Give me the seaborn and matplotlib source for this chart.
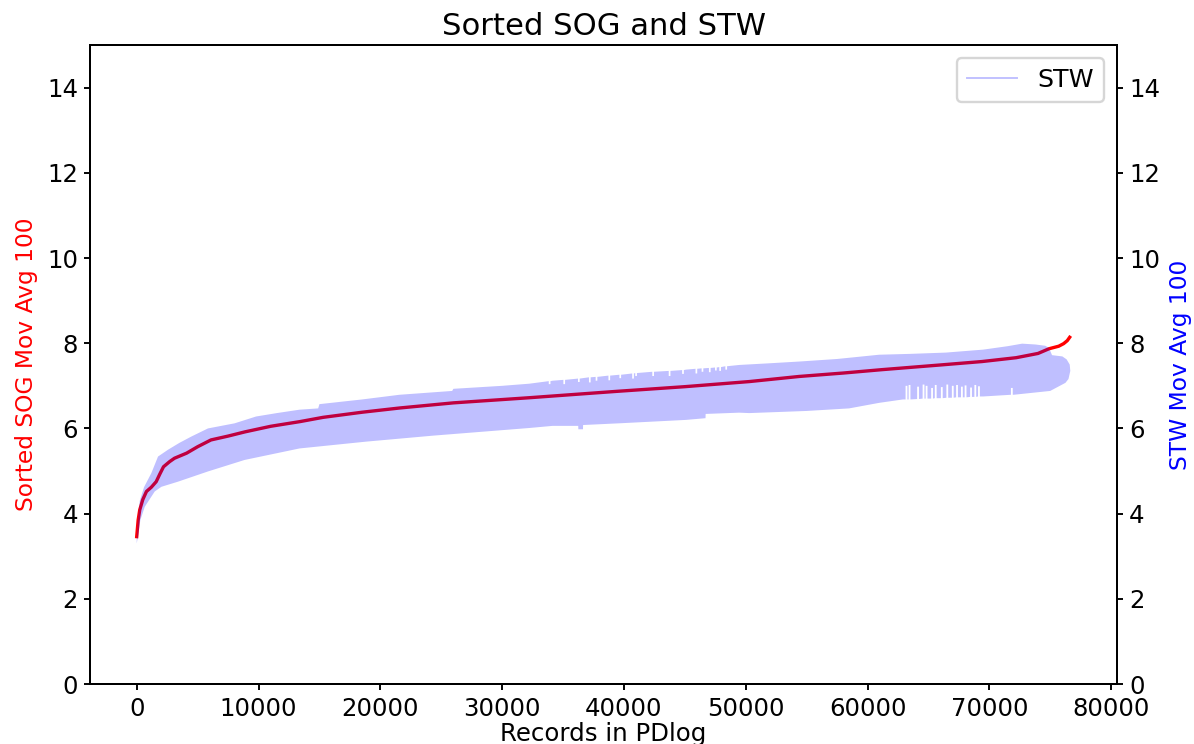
import matplotlib
matplotlib.use("Agg")
import matplotlib.pyplot as plt
from matplotlib.lines import Line2D
import seaborn as sns

# Sorted speed over ground (moving average of 100 records)
records = [0, 120, 250, 500, 800, 1200, 1600, 1900, 2200, 2700, 3100, 3600, 4100,
           5000, 6100, 7500, 8900, 11000, 13400, 15300, 18500, 21600, 26000,
           32200, 39400, 45000, 50300, 54400, 58000, 61200, 66000, 69400, 72200,
           74000, 74900, 75700, 76100, 76400, 76600]
sog = [3.46, 3.85, 4.09, 4.33, 4.52, 4.62, 4.75, 4.93, 5.10, 5.22, 5.30, 5.36, 5.42,
       5.57, 5.73, 5.82, 5.92, 6.05, 6.16, 6.26, 6.38, 6.48, 6.60,
       6.72, 6.87, 6.98, 7.10, 7.22, 7.30, 7.38, 7.49, 7.57, 7.66,
       7.76, 7.87, 7.93, 7.99, 8.06, 8.14]

# Speed through water (moving average of 100): upper envelope of the noisy trace
stw_hi_x = [0, 80, 250, 600, 1200, 1750, 2570, 3500, 4490, 5850, 8040, 9800, 11500,
            13370, 14900, 15000, 18500, 21570, 25900, 26000, 30000, 32230, 34150,
            39620, 45090, 49470, 52000, 54390, 57500, 60950, 63500, 66420, 69500,
            71500, 72700, 73800, 74600, 74900, 75150, 76000, 76350, 76600, 76650]
stw_hi = [3.40, 3.80, 4.30, 4.62, 4.95, 5.34, 5.50, 5.66, 5.81, 6.00, 6.12, 6.28, 6.36,
          6.44, 6.47, 6.57, 6.68, 6.79, 6.88, 6.93, 7.00, 7.05, 7.12,
          7.26, 7.38, 7.49, 7.53, 7.57, 7.63, 7.73, 7.75, 7.78, 7.85,
          7.93, 7.99, 7.97, 7.94, 7.89, 7.72, 7.69, 7.62, 7.50, 7.35]

# Downward notches along the upper envelope: position, edge height, notch floor
notch_x = [33900, 35100, 36300, 37200, 37750, 38800, 39700, 40750, 41000, 42400,
           43750, 44850, 45950, 46450, 47050, 47550, 47900, 48400]
notch_edge = [7.11, 7.14, 7.17, 7.20, 7.21, 7.24, 7.26, 7.29, 7.30, 7.33,
              7.35, 7.37, 7.40, 7.41, 7.42, 7.43, 7.44, 7.46]
notch_floor = [7.04, 7.04, 7.09, 7.08, 7.12, 7.13, 7.18, 7.17, 7.23, 7.23,
               7.23, 7.28, 7.29, 7.33, 7.32, 7.36, 7.35, 7.38]
notch_half_width = 70

# Lower envelope of the STW trace
stw_lo_x = [0, 100, 300, 660, 1480, 2030, 3390, 5850, 8860, 13370, 18840, 24310,
            32230, 34150, 36250, 36260, 36640, 36650, 39620, 45090, 46700, 46710,
            49470, 50290, 55000, 58490, 60950, 62900, 66000, 69500, 72000, 75000,
            76250, 76500, 76650]
stw_lo = [3.30, 3.45, 3.85, 4.16, 4.52, 4.63, 4.75, 4.99, 5.26, 5.53, 5.69, 5.83,
          6.01, 6.06, 6.06, 5.98, 5.98, 6.08, 6.12, 6.20, 6.24, 6.34,
          6.37, 6.36, 6.41, 6.47, 6.60, 6.68, 6.71, 6.75, 6.79, 6.88,
          7.07, 7.16, 7.35]

# Upward gaps in the lower envelope: position, edge height, gap top
spike_x = [63200, 63450, 64150, 64600, 64850, 65300, 65600, 66100, 66550,
           67000, 67350, 67750, 68050, 68500, 68850, 69150, 71850]
spike_base = [6.68, 6.68, 6.69, 6.70, 6.70, 6.70, 6.71, 6.71, 6.72,
              6.72, 6.73, 6.73, 6.73, 6.74, 6.74, 6.75, 6.79]
spike_top = [7.00, 7.02, 6.98, 7.03, 7.00, 6.95, 7.02, 6.97, 7.03,
             7.00, 7.02, 6.98, 7.01, 6.96, 7.02, 6.99, 6.95]
spike_half_width = 75


def with_notches(xs, ys, pos, base, tip, hw):
    pts = list(zip(xs, ys))
    for p, b, t in zip(pos, base, tip):
        pts += [(p - hw, b), (p - hw + 1, t), (p + hw - 1, t), (p + hw, b)]
    pts.sort(key=lambda q: q[0])
    return [q[0] for q in pts], [q[1] for q in pts]


hi_x, hi_y = with_notches(stw_hi_x, stw_hi, notch_x, notch_edge, notch_floor,
                          notch_half_width)
lo_x, lo_y = with_notches(stw_lo_x, stw_lo, spike_x, spike_base, spike_top,
                          spike_half_width)

poly_x = hi_x + lo_x[::-1]
poly_y = hi_y + lo_y[::-1]

plt.rcParams["font.family"] = ["DejaVu Sans"]
plt.rcParams["font.size"] = 10.2
plt.rcParams["axes.titlesize"] = 12.8
plt.rcParams["xtick.major.size"] = 2.5
plt.rcParams["ytick.major.size"] = 2.5
plt.rcParams["xtick.major.pad"] = 2.8
plt.rcParams["ytick.major.pad"] = 2.5

dpi = 172
fig = plt.figure(figsize=(1194 / dpi, 744 / dpi), dpi=dpi)
ax1 = fig.add_axes([0.0754, 0.0806, 0.8601, 0.8589])

sns.lineplot(x=records, y=sog, ax=ax1, color="red", linewidth=1.4)
ax1.set_ylim(0, 15)
ax1.set_yticks(range(0, 15, 2))
ax1.set_xlabel("Records in PDlog", labelpad=0.5)
ax1.set_ylabel("Sorted SOG Mov Avg 100", color="red", fontsize=9.8)

ax2 = ax1.twinx()
ax2.fill(poly_x, poly_y, color="blue", alpha=0.25, linewidth=0)
ax2.set_ylim(0, 15)
ax2.set_yticks(range(0, 15, 2))
ax2.set_ylabel("STW Mov Avg 100", color="blue", fontsize=9.8)
ax2.legend(handles=[Line2D([], [], color="blue", alpha=0.25, lw=0.8, label="STW")],
           loc="upper right", fontsize=10.6)
ax2.set_title("Sorted SOG and STW", pad=4)

fig.savefig("out.png", dpi=dpi)
